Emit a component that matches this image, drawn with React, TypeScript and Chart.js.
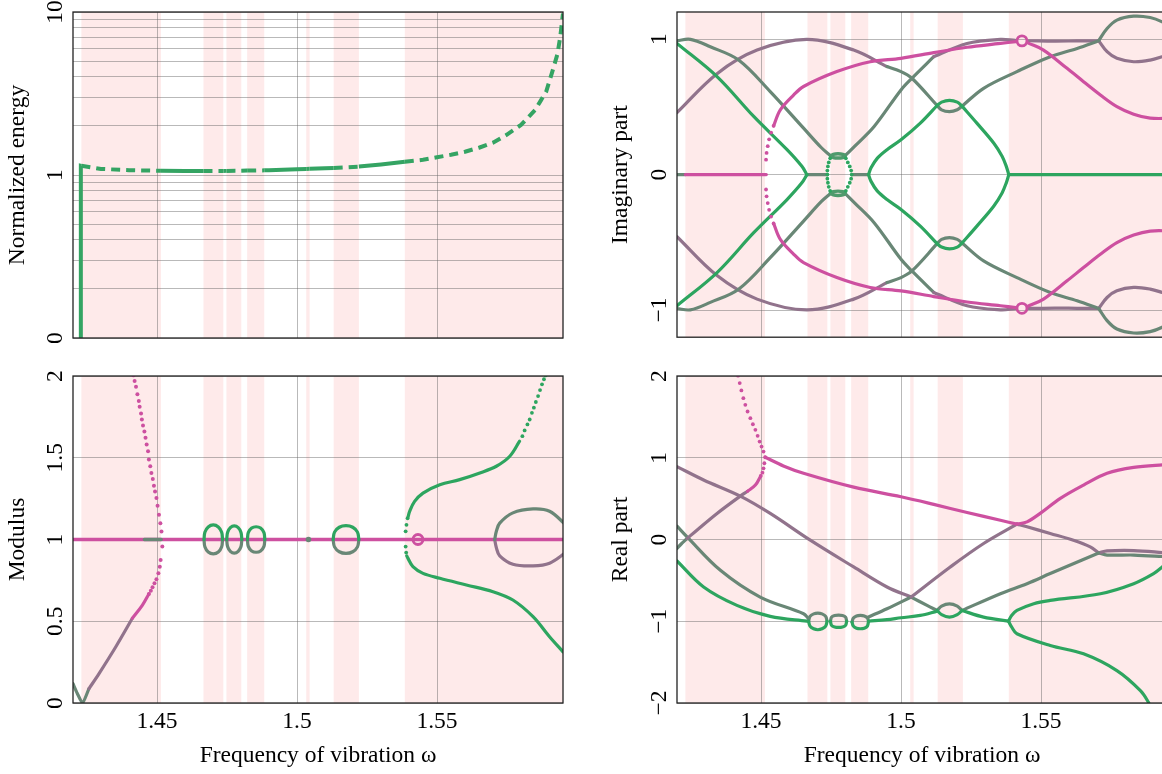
import React, { useEffect, useRef } from 'react';
import { Chart, registerables } from 'chart.js';
Chart.register(...registerables);

// ---------------- styles ----------------
const FONT_FAMILY = '"Liberation Serif", "Times New Roman", serif';
const FONT_SIZE = 23.5;
const GREEN = '#2da55f';
const GRAYGREEN = '#698776';
const MAUVE = '#91738c';
const MAGENTA = '#cd50a0';
const ENERGY_GREEN = '#34a463';
const BAND_COLOR = 'rgb(254,234,234)';
const GRID_COLOR = 'rgba(100,100,100,0.45)';

// ---------------- shared axis data ----------------
const X_MIN = 1.42;
const X_MAX = 1.595;
const X_TICKS = [1.45, 1.5, 1.55];
const X_TICK_LABELS = ['1.45', '1.5', '1.55'];
const X_TITLE = 'Frequency of vibration ω';

// shaded (unstable) frequency bands
const BAND_START = [1.423, 1.4666, 1.4748, 1.4822, 1.5033, 1.5131, 1.5385];
const BAND_END = [1.4514, 1.4737, 1.4801, 1.4883, 1.5045, 1.5221, 1.595];

// ---------------- normalized energy (top-left) ----------------
const ENERGY_X = [1.4228, 1.4228, 1.423, 1.43, 1.44, 1.45, 1.4514, 1.46, 1.4666, 1.4737, 1.4748, 1.4801, 1.4822, 1.4883, 1.49, 1.50, 1.5033, 1.5045, 1.51, 1.5131, 1.5221, 1.53, 1.5385, 1.545, 1.55, 1.555, 1.56, 1.565, 1.57, 1.575, 1.58, 1.583, 1.585, 1.587, 1.589, 1.591, 1.593, 1.594, 1.595];
const ENERGY_Y = [0.1, 1.14, 1.138, 1.09, 1.07, 1.062, 1.061, 1.058, 1.058, 1.059, 1.06, 1.062, 1.064, 1.068, 1.07, 1.085, 1.09, 1.092, 1.10, 1.105, 1.126, 1.16, 1.205, 1.24, 1.285, 1.33, 1.39, 1.47, 1.58, 1.77, 2.03, 2.3, 2.5, 2.85, 3.25, 4.2, 5.5, 7.0, 9.8];
const ENERGY_GRID = [0.1, 0.2, 0.3, 0.4, 0.5, 0.6, 0.7, 0.8, 0.9, 1, 2, 3, 4, 5, 6, 7, 8, 9, 10];
const ENERGY_LABELED = [0.1, 1, 10];
const ENERGY_LABELS = ['0', '1', '10'];

// ---------------- imaginary part (top-right) ----------------
const IM_TICKS = [-1, 0, 1];
const IM_TICK_LABELS = ['−1', '0', '1'];
// upper half
const IM_A_UP = [[1.42, 0.988], [1.4248, 0.998], [1.4319, 0.943], [1.442, 0.846], [1.4533, 0.613], [1.4652, 0.343], [1.4715, 0.2], [1.4748, 0.14]];
const IM_B_UP = [[1.42, 0.968], [1.4343, 0.723], [1.4474, 0.429], [1.4593, 0.184], [1.4646, 0.061], [1.4664, 0]];
const IM_C_UP = [[1.42, 0.458], [1.4343, 0.745], [1.4486, 0.919], [1.4664, 0.998], [1.4831, 0.919], [1.495, 0.797]];
const IM_C2_UP = [[1.495, 0.797], [1.5, 0.76], [1.5039, 0.711], [1.5129, 0.51]];
const IM_E_UP = [[1.4801, 0.14], [1.4835, 0.21], [1.4904, 0.355], [1.5, 0.625], [1.5039, 0.711], [1.5117, 0.87]];
const IM_E2_UP = [[1.5117, 0.87], [1.5236, 0.968], [1.5355, 0.998], [1.5408, 0.99]];
const IM_D_DOTS_UP = [[1.4518, 0.11], [1.452, 0.16], [1.4524, 0.21], [1.4529, 0.26], [1.4536, 0.31], [1.4545, 0.36]];
const IM_D_UP = [[1.4545, 0.36], [1.4569, 0.478], [1.4617, 0.588], [1.4652, 0.65], [1.4771, 0.76], [1.489, 0.833], [1.5, 0.858], [1.5117, 0.9], [1.5236, 0.94], [1.5355, 0.968], [1.541, 0.982]];
const IM_D2_UP = [[1.5455, 0.97], [1.5509, 0.919], [1.5593, 0.784], [1.5652, 0.686], [1.5712, 0.588], [1.5771, 0.502], [1.5831, 0.446], [1.589, 0.417], [1.596, 0.415]];
const IM_FLAT_UP = [[1.5456, 0.988], [1.555, 0.985], [1.5629, 0.987], [1.5706, 0.988]];
const IM_F_UP = [[1.4884, 0], [1.4893, 0.05], [1.4915, 0.12], [1.495, 0.184], [1.5, 0.257], [1.5069, 0.38], [1.5129, 0.51]];
const IM_OV_OUT_UP = [[1.5129, 0.51], [1.5145, 0.535], [1.5173, 0.548], [1.5201, 0.535], [1.5218, 0.505]];
const IM_OV_IN_UP = [[1.5129, 0.51], [1.5145, 0.478], [1.5173, 0.465], [1.5201, 0.478], [1.5218, 0.505]];
const IM_G_UP = [[1.5218, 0.505], [1.5295, 0.637], [1.5414, 0.76], [1.5533, 0.87], [1.5629, 0.931], [1.5706, 0.988]];
const IM_H_UP = [[1.5218, 0.505], [1.5271, 0.38], [1.5331, 0.233], [1.5361, 0.135], [1.5376, 0.061], [1.5385, 0]];
const IM_LOOP_OUT_UP = [[1.5706, 0.988], [1.5736, 1.078], [1.5771, 1.14], [1.5831, 1.169], [1.589, 1.159], [1.5933, 1.127], [1.596, 1.09]];
const IM_LOOP_IN_UP = [[1.5706, 0.988], [1.5736, 0.907], [1.5771, 0.858], [1.5831, 0.833], [1.589, 0.845], [1.5933, 0.87], [1.596, 0.89]];
const IM_SOVAL_UP = [[1.4748, 0.138], [1.4758, 0.15], [1.4775, 0.154], [1.4792, 0.15], [1.4801, 0.138], [1.4792, 0.126], [1.4775, 0.122], [1.4758, 0.126], [1.4748, 0.138]];
// lower half
const IM_A_LO = [[1.42, -0.988], [1.4248, -0.998], [1.4319, -0.943], [1.442, -0.846], [1.4533, -0.613], [1.4652, -0.343], [1.4715, -0.2], [1.4748, -0.14]];
const IM_B_LO = [[1.42, -0.968], [1.4343, -0.723], [1.4474, -0.429], [1.4593, -0.184], [1.4646, -0.061], [1.4664, 0]];
const IM_C_LO = [[1.42, -0.458], [1.4343, -0.745], [1.4486, -0.919], [1.4664, -0.998], [1.4831, -0.919], [1.495, -0.797]];
const IM_C2_LO = [[1.495, -0.797], [1.5, -0.76], [1.5039, -0.711], [1.5129, -0.51]];
const IM_E_LO = [[1.4801, -0.14], [1.4835, -0.21], [1.4904, -0.355], [1.5, -0.625], [1.5039, -0.711], [1.5117, -0.87]];
const IM_E2_LO = [[1.5117, -0.87], [1.5236, -0.968], [1.5355, -0.998], [1.5408, -0.99]];
const IM_D_DOTS_LO = [[1.4518, -0.11], [1.452, -0.16], [1.4524, -0.21], [1.4529, -0.26], [1.4536, -0.31], [1.4545, -0.36]];
const IM_D_LO = [[1.4545, -0.36], [1.4569, -0.478], [1.4617, -0.588], [1.4652, -0.65], [1.4771, -0.76], [1.489, -0.833], [1.5, -0.858], [1.5117, -0.9], [1.5236, -0.94], [1.5355, -0.968], [1.541, -0.982]];
const IM_D2_LO = [[1.5455, -0.97], [1.5509, -0.919], [1.5593, -0.784], [1.5652, -0.686], [1.5712, -0.588], [1.5771, -0.502], [1.5831, -0.446], [1.589, -0.417], [1.596, -0.415]];
const IM_FLAT_LO = [[1.5456, -0.988], [1.555, -0.985], [1.5629, -0.987], [1.5706, -0.988]];
const IM_F_LO = [[1.4884, 0], [1.4893, -0.05], [1.4915, -0.12], [1.495, -0.184], [1.5, -0.257], [1.5069, -0.38], [1.5129, -0.51]];
const IM_OV_OUT_LO = [[1.5129, -0.51], [1.5145, -0.535], [1.5173, -0.548], [1.5201, -0.535], [1.5218, -0.505]];
const IM_OV_IN_LO = [[1.5129, -0.51], [1.5145, -0.478], [1.5173, -0.465], [1.5201, -0.478], [1.5218, -0.505]];
const IM_G_LO = [[1.5218, -0.505], [1.5295, -0.637], [1.5414, -0.76], [1.5533, -0.87], [1.5629, -0.931], [1.5706, -0.988]];
const IM_H_LO = [[1.5218, -0.505], [1.5271, -0.38], [1.5331, -0.233], [1.5361, -0.135], [1.5376, -0.061], [1.5385, 0]];
const IM_LOOP_OUT_LO = [[1.5706, -0.988], [1.5736, -1.078], [1.5771, -1.14], [1.5831, -1.169], [1.589, -1.159], [1.5933, -1.127], [1.596, -1.09]];
const IM_LOOP_IN_LO = [[1.5706, -0.988], [1.5736, -0.907], [1.5771, -0.858], [1.5831, -0.833], [1.589, -0.845], [1.5933, -0.87], [1.596, -0.89]];
const IM_SOVAL_LO = [[1.4748, -0.138], [1.4758, -0.15], [1.4775, -0.154], [1.4792, -0.15], [1.4801, -0.138], [1.4792, -0.126], [1.4775, -0.122], [1.4758, -0.126], [1.4748, -0.138]];
// real axis pieces and small features
const IM_AXIS_GG = [[1.42, 0], [1.423, 0]];
const IM_AXIS_MG = [[1.423, 0], [1.4519, 0]];
const IM_AXIS_GG2 = [[1.4664, 0], [1.4737, 0]];
const IM_AXIS_GG3 = [[1.4824, 0], [1.4884, 0]];
const IM_AXIS_G = [[1.5385, 0], [1.596, 0]];
const IM_SIDE_DOTS = [[1.4747, 0.12], [1.4742, 0.09], [1.4739, 0.06], [1.4737, 0.03], [1.4737, 0], [1.4737, -0.03], [1.4739, -0.06], [1.4742, -0.09], [1.4747, -0.12], [1.4803, 0.12], [1.481, 0.09], [1.4817, 0.06], [1.4822, 0.03], [1.4824, 0], [1.4822, -0.03], [1.4817, -0.06], [1.481, -0.09], [1.4803, -0.12]];
const IM_RINGS = [[1.5432, 0.987], [1.5432, -0.987]];

// ---------------- modulus (bottom-left) ----------------
const MOD_TICKS = [0, 0.5, 1, 1.5, 2];
const MOD_TICK_LABELS = ['0', '0.5', '1', '1.5', '2'];
const MOD_UNIT = [[1.42, 1], [1.596, 1]];
const MOD_UNIT_GRAY = [[1.4455, 1], [1.4515, 1]];
const MOD_DOTS = [[1.4416, 2.004], [1.442, 1.969], [1.4425, 1.934], [1.443, 1.888], [1.4435, 1.847], [1.4438, 1.812], [1.4443, 1.771], [1.4446, 1.734], [1.445, 1.698], [1.4455, 1.661], [1.4459, 1.622], [1.4463, 1.581], [1.4468, 1.54], [1.4471, 1.489], [1.4476, 1.448], [1.448, 1.407], [1.4485, 1.37], [1.4489, 1.329], [1.4493, 1.294], [1.4498, 1.254], [1.4502, 1.207], [1.4507, 1.152], [1.4512, 1.1], [1.4516, 1.049], [1.4519, 0.957], [1.4513, 0.875], [1.451, 0.834], [1.4505, 0.793], [1.4498, 0.757], [1.4491, 0.732], [1.4484, 0.708], [1.4478, 0.687], [1.4471, 0.667]];
const MOD_LEFT_MG = [[1.4471, 0.667], [1.4448, 0.599], [1.4412, 0.518]];
const MOD_LEFT_MV = [[1.4412, 0.518], [1.4353, 0.344], [1.4293, 0.18], [1.4257, 0.088]];
const MOD_LEFT_GG = [[1.4257, 0.088], [1.4234, 0.0], [1.4215, 0.06], [1.42, 0.118]];
const MOD_C1_T = [[1.4668, 1.0], [1.4671, 1.045], [1.4683, 1.077], [1.4701, 1.089], [1.4719, 1.077], [1.4731, 1.045], [1.4734, 1.0]];
const MOD_C1_B = [[1.4668, 1.0], [1.4671, 0.955], [1.4683, 0.923], [1.4701, 0.912], [1.4719, 0.923], [1.4731, 0.955], [1.4734, 1.0]];
const MOD_C2_T = [[1.4749, 1.0], [1.4752, 1.043], [1.4762, 1.072], [1.4776, 1.083], [1.479, 1.072], [1.48, 1.043], [1.4803, 1.0]];
const MOD_C2_B = [[1.4749, 1.0], [1.4752, 0.957], [1.4762, 0.928], [1.4776, 0.917], [1.479, 0.928], [1.48, 0.957], [1.4803, 1.0]];
const MOD_C3_T = [[1.4823, 1.0], [1.4826, 1.042], [1.4838, 1.07], [1.4854, 1.078], [1.487, 1.07], [1.4882, 1.042], [1.4885, 1.0]];
const MOD_C3_B = [[1.4823, 1.0], [1.4826, 0.958], [1.4838, 0.93], [1.4854, 0.922], [1.487, 0.93], [1.4882, 0.958], [1.4885, 1.0]];
const MOD_C4_T = [[1.5129, 1.0], [1.5134, 1.045], [1.5151, 1.075], [1.5175, 1.085], [1.5199, 1.075], [1.5216, 1.045], [1.5221, 1.0]];
const MOD_C4_B = [[1.5129, 1.0], [1.5134, 0.955], [1.5151, 0.925], [1.5175, 0.915], [1.5199, 0.925], [1.5216, 0.955], [1.5221, 1.0]];
const MOD_DOT = [[1.5041, 1.0]];
const MOD_RING = [[1.5432, 1.0]];
const MOD_UP_DOTS = [[1.5388, 1.05], [1.5391, 1.09], [1.5395, 1.13]];
const MOD_UP = [[1.5397, 1.14], [1.5402, 1.171], [1.542, 1.233], [1.545, 1.284], [1.551, 1.335], [1.5581, 1.366], [1.5653, 1.407], [1.5712, 1.448], [1.576, 1.509], [1.5795, 1.601]];
const MOD_UP_DOTS2 = [[1.5805, 1.632], [1.5813, 1.667], [1.5823, 1.704], [1.5831, 1.734], [1.5839, 1.775], [1.5846, 1.806], [1.5853, 1.841], [1.5861, 1.877], [1.5868, 1.914], [1.5875, 1.949], [1.5882, 1.98], [1.5888, 2.004]];
const MOD_LO_DOTS = [[1.5388, 0.957], [1.539, 0.92]];
const MOD_LO = [[1.5392, 0.9], [1.5396, 0.886], [1.5414, 0.834], [1.545, 0.793], [1.551, 0.763], [1.5605, 0.722], [1.57, 0.681], [1.5771, 0.63], [1.5843, 0.528], [1.5902, 0.405], [1.595, 0.313]];
const MOD_OV_T = [[1.5706, 1.0], [1.5712, 1.05], [1.5724, 1.1], [1.5771, 1.163], [1.5843, 1.187], [1.5902, 1.173], [1.596, 1.09]];
const MOD_OV_B = [[1.5706, 1.0], [1.5712, 0.95], [1.5724, 0.9], [1.5771, 0.849], [1.5843, 0.839], [1.5902, 0.855], [1.596, 0.92]];

// ---------------- real part (bottom-right) ----------------
const RE_TICKS = [-2, -1, 0, 1, 2];
const RE_TICK_LABELS = ['−2', '−1', '0', '1', '2'];
const RE_DOTS = [[1.4418, 2.004], [1.4424, 1.913], [1.443, 1.823], [1.4437, 1.729], [1.4444, 1.648], [1.4452, 1.566], [1.4462, 1.484], [1.4471, 1.41], [1.448, 1.341], [1.4488, 1.268], [1.4495, 1.198], [1.4502, 1.137], [1.4509, 1.076], [1.4515, 1.006], [1.4512, 0.933], [1.4509, 0.871], [1.4505, 0.818], [1.4499, 0.777]];
const RE_L_MG = [[1.4499, 0.777], [1.448, 0.666], [1.4452, 0.59]];
const RE_L_MV = [[1.4452, 0.59], [1.4426, 0.531], [1.4343, 0.319], [1.4271, 0.114], [1.4236, 0.012]];
const RE_L_GG = [[1.4236, 0.012], [1.4215, -0.055], [1.42, -0.11]];
const RE_MG1 = [[1.4515, 1.006], [1.458, 0.9], [1.4652, 0.81], [1.4831, 0.64], [1.5, 0.523], [1.5117, 0.43], [1.5236, 0.33], [1.5355, 0.235], [1.5414, 0.188]];
const RE_MG2 = [[1.5414, 0.188], [1.545, 0.216], [1.5497, 0.319], [1.5569, 0.503], [1.5652, 0.666], [1.5736, 0.81], [1.5831, 0.883], [1.5933, 0.912], [1.596, 0.912]];
const RE_MV1 = [[1.42, 0.891], [1.4295, 0.728], [1.4426, 0.531], [1.4533, 0.319], [1.4676, -0.008], [1.4831, -0.336], [1.495, -0.581], [1.5036, -0.704]];
const RE_MV1_GG = [[1.5036, -0.704], [1.5093, -0.806], [1.5129, -0.868]];
const RE_GG1 = [[1.42, 0.163], [1.4236, 0.032], [1.4355, -0.377], [1.4497, -0.704], [1.4652, -0.908], [1.467, -0.97]];
const RE_G1 = [[1.42, -0.262], [1.4295, -0.581], [1.4414, -0.806], [1.4533, -0.941], [1.4664, -0.999], [1.467, -1.0]];
const RE_C1_T = [[1.467, -1.0], [1.4675, -0.94], [1.4688, -0.91], [1.4703, -0.9], [1.4718, -0.91], [1.4731, -0.94], [1.4736, -1.0]];
const RE_C1_B = [[1.467, -1.0], [1.4675, -1.06], [1.4688, -1.092], [1.4703, -1.104], [1.4718, -1.092], [1.4731, -1.06], [1.4736, -1.0]];
const RE_C2_T = [[1.4748, -1.0], [1.4752, -0.95], [1.4763, -0.93], [1.4777, -0.924], [1.4791, -0.93], [1.4802, -0.95], [1.4806, -1.0]];
const RE_C2_B = [[1.4748, -1.0], [1.4752, -1.05], [1.4763, -1.07], [1.4777, -1.076], [1.4791, -1.07], [1.4802, -1.05], [1.4806, -1.0]];
const RE_C3_T = [[1.4825, -1.01], [1.483, -0.96], [1.4841, -0.935], [1.4855, -0.929], [1.4869, -0.935], [1.488, -0.96], [1.4884, -1.0]];
const RE_C3_B = [[1.4825, -1.01], [1.483, -1.06], [1.4841, -1.085], [1.4855, -1.092], [1.4869, -1.085], [1.488, -1.06], [1.4884, -1.0]];
const RE_G2 = [[1.4884, -1.0], [1.495, -0.98], [1.5, -0.957], [1.5069, -0.929], [1.5129, -0.876]];
const RE_GG2 = [[1.4882, -0.95], [1.495, -0.847], [1.5036, -0.704]];
const RE_MV2 = [[1.5036, -0.704], [1.5176, -0.336], [1.5295, -0.049], [1.5414, 0.188]];
const RE_MV3 = [[1.5414, 0.188], [1.545, 0.155], [1.5533, 0.074], [1.5616, -0.009], [1.5676, -0.09], [1.5706, -0.164]];
const RE_MV4 = [[1.5706, -0.164], [1.5736, -0.14], [1.5831, -0.135], [1.5933, -0.16], [1.596, -0.17]];
const RE_GG4 = [[1.5706, -0.164], [1.5736, -0.19], [1.5831, -0.19], [1.5933, -0.208], [1.596, -0.215]];
const RE_OV_T = [[1.5129, -0.868], [1.5145, -0.815], [1.5173, -0.787], [1.5201, -0.815], [1.5218, -0.868]];
const RE_OV_B = [[1.5129, -0.868], [1.5145, -0.92], [1.5173, -0.95], [1.5201, -0.92], [1.5218, -0.868]];
const RE_GG3 = [[1.5218, -0.868], [1.5355, -0.663], [1.545, -0.54], [1.5533, -0.417], [1.5706, -0.164]];
const RE_G3 = [[1.5218, -0.868], [1.5295, -0.95], [1.5384, -0.999]];
const RE_G4 = [[1.5384, -0.999], [1.5395, -0.93], [1.5414, -0.868], [1.5474, -0.785], [1.5533, -0.745], [1.5712, -0.663], [1.5831, -0.54], [1.5902, -0.417], [1.5933, -0.336], [1.596, -0.25]];
const RE_G5 = [[1.5384, -0.999], [1.5395, -1.07], [1.5414, -1.153], [1.5533, -1.297], [1.5652, -1.399], [1.5771, -1.604], [1.5855, -1.849], [1.5884, -1.993], [1.589, -2.05]];

// ---------------- helpers ----------------
type P = number[][];
const toXY = (p: P) => p.map(([x, y]) => ({ x, y }));
const LW = 3.2;

function line(p: P, color: string, width = LW, tension = 0.35): any {
  return {
    data: toXY(p), borderColor: color, backgroundColor: color, borderWidth: width,
    pointRadius: 0, tension, fill: false, borderCapStyle: 'round', borderJoinStyle: 'round', showLine: true,
  };
}
function dots(p: P, color: string, r = 1.9): any {
  return {
    data: toXY(p), showLine: false, pointRadius: r, pointBackgroundColor: color,
    pointBorderWidth: 0, borderColor: color, backgroundColor: color,
  };
}
function rings(p: P, color: string): any {
  return {
    data: toXY(p), showLine: false, pointRadius: 5, pointBorderWidth: 2.8,
    pointBorderColor: color, pointBackgroundColor: 'rgba(0,0,0,0)', borderColor: color,
  };
}
// paint order: first element is drawn first (underneath)
const stack = (list: any[]) => list.slice().reverse();

const inBand = (x: number) => BAND_START.some((s, i) => x > s && x < BAND_END[i]);

const bandsPlugin = {
  id: 'bands',
  beforeDraw(chart: any) {
    const { ctx, chartArea, scales } = chart;
    const xs = scales.x;
    ctx.save();
    ctx.fillStyle = BAND_COLOR;
    for (let i = 0; i < BAND_START.length; i++) {
      const a = Math.max(xs.getPixelForValue(BAND_START[i]), chartArea.left);
      const b = Math.min(xs.getPixelForValue(BAND_END[i]), chartArea.right);
      ctx.fillRect(a, chartArea.top, b - a, chartArea.bottom - chartArea.top);
    }
    ctx.restore();
  },
};
const framePlugin = {
  id: 'frame',
  afterDraw(chart: any) {
    const { ctx, chartArea } = chart;
    ctx.save();
    ctx.strokeStyle = '#222';
    ctx.lineWidth = 1.3;
    ctx.strokeRect(chartArea.left, chartArea.top, chartArea.right - chartArea.left, chartArea.bottom - chartArea.top);
    ctx.restore();
  },
};

const font = { family: FONT_FAMILY, size: FONT_SIZE };

interface PanelOpts {
  datasets: any[];
  yType: string;
  yMin: number;
  yMax: number;
  yGrid: number[];
  yLabel: (v: number) => string;
  yTitle: string;
  showX: boolean;
  tickPad: number;
  padding: any;
  xAxisHeight: number;
  yAxisWidth: number;
}

function makeConfig(o: PanelOpts): any {
  return {
    type: 'line',
    data: { datasets: o.datasets },
    options: {
      animation: false,
      responsive: false,
      events: [],
      layout: { padding: o.padding },
      plugins: { legend: { display: false }, tooltip: { enabled: false } },
      scales: {
        x: {
          type: 'linear', min: X_MIN, max: X_MAX,
          afterBuildTicks: (s: any) => { s.ticks = X_TICKS.map((v) => ({ value: v })); },
          afterFit: (s: any) => { s.height = o.xAxisHeight; s.paddingLeft = 0; s.paddingRight = 0; },
          ticks: {
            display: o.showX, autoSkip: false, maxRotation: 0, minRotation: 0, padding: 5,
            color: '#000', font,
            callback: (_v: any, i: number) => X_TICK_LABELS[i],
          },
          grid: { color: GRID_COLOR, lineWidth: 1, drawTicks: false },
          border: { display: false },
          title: { display: o.showX, text: X_TITLE, color: '#000', font, padding: { top: 0, bottom: 4 } },
        },
        y: {
          type: o.yType, min: o.yMin, max: o.yMax,
          afterBuildTicks: (s: any) => { s.ticks = o.yGrid.map((v) => ({ value: v })); },
          afterFit: (s: any) => { s.width = o.yAxisWidth; s.paddingTop = 0; s.paddingBottom = 0; },
          ticks: {
            autoSkip: false, minRotation: 90, maxRotation: 90, crossAlign: 'center',
            padding: o.tickPad, color: '#000', font,
            callback: (v: any) => o.yLabel(Number(v)),
          },
          grid: { color: GRID_COLOR, lineWidth: 1, drawTicks: false },
          border: { display: false },
          title: { display: true, text: o.yTitle, color: '#000', font, padding: { top: 4, bottom: 4 } },
        },
      },
    },
    plugins: [bandsPlugin, framePlugin],
  };
}

const labelFrom = (vals: number[], labels: string[]) => (v: number) => {
  const i = vals.findIndex((t) => Math.abs(t - v) < 1e-9);
  return i >= 0 ? labels[i] : '';
};

function energyConfig() {
  const data = ENERGY_X.map((x, i) => ({ x, y: ENERGY_Y[i] }));
  const ds = {
    data, borderColor: ENERGY_GREEN, backgroundColor: ENERGY_GREEN, borderWidth: 4,
    pointRadius: 0, tension: 0, fill: false, borderCapStyle: 'butt',
    segment: { borderDash: (c: any) => (inBand((c.p0.parsed.x + c.p1.parsed.x) / 2) ? [9, 6] : undefined) },
  };
  return makeConfig({
    datasets: [ds], yType: 'logarithmic', yMin: 0.1, yMax: 10, yGrid: ENERGY_GRID,
    yLabel: labelFrom(ENERGY_LABELED, ENERGY_LABELS), yTitle: 'Normalized energy',
    showX: false, tickPad: 5, padding: { left: 0, top: 12, right: 12, bottom: 0 }, xAxisHeight: 7, yAxisWidth: 73,
  });
}

function imagConfig() {
  const ds = stack([
    line(IM_AXIS_GG, GRAYGREEN), line(IM_AXIS_MG, MAGENTA), line(IM_AXIS_GG2, GRAYGREEN), line(IM_AXIS_GG3, GRAYGREEN), line(IM_AXIS_G, GREEN),
    line(IM_C_UP, MAUVE), line(IM_C_LO, MAUVE), line(IM_C2_UP, GRAYGREEN), line(IM_C2_LO, GRAYGREEN),
    line(IM_A_UP, GRAYGREEN), line(IM_A_LO, GRAYGREEN),
    line(IM_E_UP, GRAYGREEN), line(IM_E_LO, GRAYGREEN), line(IM_E2_UP, MAUVE), line(IM_E2_LO, MAUVE),
    line(IM_FLAT_UP, MAUVE), line(IM_FLAT_LO, MAUVE),
    line(IM_G_UP, GRAYGREEN), line(IM_G_LO, GRAYGREEN),
    line(IM_LOOP_IN_UP, MAUVE), line(IM_LOOP_IN_LO, MAUVE), line(IM_LOOP_OUT_UP, GRAYGREEN), line(IM_LOOP_OUT_LO, GRAYGREEN),
    line(IM_OV_IN_UP, GRAYGREEN), line(IM_OV_IN_LO, GRAYGREEN), line(IM_OV_OUT_UP, GREEN), line(IM_OV_OUT_LO, GREEN),
    line(IM_B_UP, GREEN), line(IM_B_LO, GREEN), line(IM_F_UP, GREEN), line(IM_F_LO, GREEN),
    line(IM_H_UP, GREEN), line(IM_H_LO, GREEN),
    line(IM_SOVAL_UP, '#4f9a6c', 3.4, 0.3), line(IM_SOVAL_LO, '#4f9a6c', 3.4, 0.3),
    line(IM_D_UP, MAGENTA), line(IM_D_LO, MAGENTA), line(IM_D2_UP, MAGENTA), line(IM_D2_LO, MAGENTA),
    dots(IM_D_DOTS_UP, MAGENTA), dots(IM_D_DOTS_LO, MAGENTA), dots(IM_SIDE_DOTS, GREEN),
    rings(IM_RINGS, MAGENTA),
  ]);
  return makeConfig({
    datasets: ds, yType: 'linear', yMin: -1.2, yMax: 1.2, yGrid: IM_TICKS,
    yLabel: labelFrom(IM_TICKS, IM_TICK_LABELS), yTitle: 'Imaginary part',
    showX: false, tickPad: 4.5, padding: { left: 0, top: 12, right: 16, bottom: 0 }, xAxisHeight: 7, yAxisWidth: 74,
  });
}

function modConfig() {
  const ds = stack([
    line(MOD_UNIT, MAGENTA, 3.4), line(MOD_UNIT_GRAY, GRAYGREEN, 3.4, 0),
    line(MOD_LEFT_GG, GRAYGREEN, LW, 0.2), line(MOD_LEFT_MV, MAUVE), line(MOD_LEFT_MG, MAGENTA),
    line(MOD_C1_B, GRAYGREEN), line(MOD_C1_T, GREEN), line(MOD_C2_B, GRAYGREEN), line(MOD_C2_T, GREEN),
    line(MOD_C3_B, GRAYGREEN), line(MOD_C3_T, GREEN), line(MOD_C4_B, GRAYGREEN), line(MOD_C4_T, GREEN),
    line(MOD_OV_B, MAUVE), line(MOD_OV_T, GRAYGREEN),
    line(MOD_UP, GREEN), line(MOD_LO, GREEN),
    dots(MOD_UP_DOTS, GREEN), dots(MOD_UP_DOTS2, GREEN), dots(MOD_LO_DOTS, GREEN),
    dots(MOD_DOTS, MAGENTA, 2), dots(MOD_DOT, GRAYGREEN, 2.8),
    rings(MOD_RING, MAGENTA),
  ]);
  return makeConfig({
    datasets: ds, yType: 'linear', yMin: 0, yMax: 2, yGrid: MOD_TICKS,
    yLabel: labelFrom(MOD_TICKS, MOD_TICK_LABELS), yTitle: 'Modulus',
    showX: true, tickPad: 2.3, padding: { left: 0, top: 16, right: 12, bottom: 0 }, xAxisHeight: 71, yAxisWidth: 73,
  });
}

function realConfig() {
  const ds = stack([
    line(RE_GG1, GRAYGREEN), line(RE_G1, GREEN), line(RE_MV1, MAUVE), line(RE_MV1_GG, GRAYGREEN),
    line(RE_L_GG, GRAYGREEN), line(RE_L_MV, MAUVE), line(RE_L_MG, MAGENTA),
    line(RE_C1_T, GRAYGREEN), line(RE_C2_T, GRAYGREEN), line(RE_C3_T, GRAYGREEN),
    line(RE_C1_B, GREEN), line(RE_C2_B, GREEN), line(RE_C3_B, GREEN),
    line(RE_GG2, GRAYGREEN), line(RE_G2, GREEN), line(RE_MV2, MAUVE), line(RE_MV3, MAUVE),
    line(RE_GG4, GRAYGREEN), line(RE_MV4, MAUVE),
    line(RE_OV_T, GRAYGREEN), line(RE_OV_B, GREEN), line(RE_GG3, GRAYGREEN),
    line(RE_G3, GREEN), line(RE_G4, GREEN), line(RE_G5, GREEN),
    line(RE_MG1, MAGENTA), line(RE_MG2, MAGENTA),
    dots(RE_DOTS, MAGENTA),
  ]);
  return makeConfig({
    datasets: ds, yType: 'linear', yMin: -2, yMax: 2, yGrid: RE_TICKS,
    yLabel: labelFrom(RE_TICKS, RE_TICK_LABELS), yTitle: 'Real part',
    showX: true, tickPad: 4.5, padding: { left: 0, top: 16, right: 16, bottom: 0 }, xAxisHeight: 71, yAxisWidth: 74,
  });
}

function Panel(props: { make: () => any; left: number; top: number; width: number; height: number }) {
  const ref = useRef<HTMLCanvasElement | null>(null);
  useEffect(() => {
    if (!ref.current) return;
    const chart = new Chart(ref.current, props.make());
    return () => chart.destroy();
  }, []);
  return (
    <canvas
      ref={ref}
      width={props.width}
      height={props.height}
      style={{ position: 'absolute', left: props.left, top: props.top, width: props.width, height: props.height, display: 'block' }}
    />
  );
}

export default function App() {
  return (
    <div style={{ position: 'fixed', left: 0, top: 0, width: 1162, height: 774, overflow: 'hidden', background: '#fff' }}>
      <Panel make={energyConfig} left={0} top={0} width={575} height={345} />
      <Panel make={imagConfig} left={603} top={0} width={580} height={345} />
      <Panel make={modConfig} left={0} top={360} width={575} height={414} />
      <Panel make={realConfig} left={603} top={360} width={580} height={414} />
    </div>
  );
}
